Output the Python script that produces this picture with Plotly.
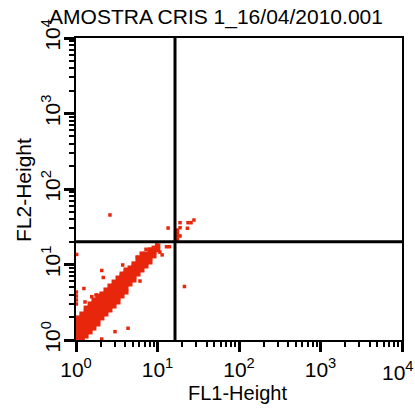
import plotly.graph_objects as go

# ---- data ----
# dense main population (FL1, FL2)
cloud_fl1 = (
    [1.06] * 6 + [1.18] * 7 + [1.33] * 8 + [1.49] * 8 + [1.66] * 8 + [1.86] * 8 +
    [2.08] * 7 + [2.33] * 7 + [2.61] * 7 + [2.93] * 7 + [3.28] * 7 + [3.67] * 7 +
    [4.11] * 7 + [4.60] * 5 + [5.15] * 5 + [5.77] * 5 + [6.45] * 5 + [7.23] * 4 +
    [8.09] * 4 + [9.06] * 3 + [10.1] * 2
)
cloud_fl2 = [
    1.06, 1.20, 1.36, 1.53, 1.73, 1.96,
    1.06, 1.20, 1.36, 1.53, 1.73, 1.96, 2.21,
    1.13, 1.28, 1.44, 1.63, 1.84, 2.08, 2.35, 2.65,
    1.28, 1.44, 1.63, 1.84, 2.08, 2.35, 2.65, 3.00,
    1.44, 1.63, 1.84, 2.08, 2.35, 2.65, 3.00, 3.39,
    1.63, 1.84, 2.08, 2.35, 2.65, 3.00, 3.39, 3.83,
    1.96, 2.21, 2.50, 2.82, 3.19, 3.60, 4.07,
    2.21, 2.50, 2.82, 3.19, 3.60, 4.07, 4.60,
    2.50, 2.82, 3.19, 3.60, 4.07, 4.60, 5.19,
    2.82, 3.19, 3.60, 4.07, 4.60, 5.19, 5.86,
    3.19, 3.60, 4.07, 4.60, 5.19, 5.86, 6.63,
    3.83, 4.32, 4.88, 5.52, 6.23, 7.04, 7.48,
    4.32, 4.88, 5.52, 6.23, 7.04, 7.96, 8.46,
    5.52, 6.23, 7.04, 7.96, 8.99,
    6.23, 7.04, 7.96, 8.99, 10.2,
    7.48, 8.46, 9.56, 10.8, 12.2,
    8.46, 9.56, 10.8, 12.2, 13.8,
    9.56, 10.8, 12.2, 13.8,
    10.8, 12.2, 13.8, 15.6,
    13.0, 14.6, 16.5,
    15.6, 17.6,
]

# scattered events
sparse_fl1 = [2.61, 13.5, 18.9, 18.9, 23.7, 25.8, 28.0, 23.3, 18.9,
              17.6, 17.6, 17.6, 17.6, 21.4, 1.02,
              9.77, 7.23, 8.09, 10.7, 11.4, 14.0, 12.9, 5.65, 3.74, 5.05,
              2.07, 2.16, 1.25, 1.56, 1.29, 1.76,
              1.01, 1.01, 1.01, 1.01, 3.01, 4.35, 2.07, 1.22, 6.10]
sparse_fl2 = [45.3, 30.4, 35.8, 30.7, 35.8, 35.8, 38.8, 30.2, 23.9,
              28.6, 26.1, 23.9, 21.8, 5.11, 13.6,
              18.1, 15.9, 15.9, 14.6, 13.4, 17.2, 17.2, 12.5, 9.85, 9.85,
              8.33, 6.73, 4.81, 3.75, 3.19, 3.95,
              4.32, 3.83, 3.39, 3.00, 1.29, 1.43, 1.03, 1.03, 6.04]

# quadrant gate
gate_fl1 = 16.4
gate_fl2 = 20.0

decades = [1, 10, 100, 1000, 10000]
exponents = ["0", "1", "2", "3", "4"]

RED = "#e8260c"
FONT = "Liberation Sans, Arial, sans-serif"


def power_label(e):
    return "10<sup>" + e + "</sup>"


y_labels = [power_label(e) for e in exponents]
x_labels = [power_label(e) for e in exponents[:-1]] + [""]

fig = go.Figure()
fig.add_trace(go.Scatter(x=cloud_fl1, y=cloud_fl2, mode="markers",
                         marker=dict(symbol="square", size=5, color=RED,
                                     line=dict(width=0)),
                         hoverinfo="skip"))
fig.add_trace(go.Scatter(x=sparse_fl1, y=sparse_fl2, mode="markers",
                         marker=dict(symbol="square", size=3.5, color=RED,
                                     line=dict(width=0)),
                         hoverinfo="skip"))
# gate lines
fig.add_trace(go.Scatter(x=[gate_fl1, gate_fl1], y=[decades[0], decades[-1]],
                         mode="lines", line=dict(color="black", width=3),
                         hoverinfo="skip"))
fig.add_trace(go.Scatter(x=[decades[0], decades[-1]], y=[gate_fl2, gate_fl2],
                         mode="lines", line=dict(color="black", width=3),
                         hoverinfo="skip"))

axis_common = dict(
    type="log", range=[0, 4], showgrid=False, zeroline=False,
    showline=True, linecolor="black", linewidth=2, mirror=True,
    ticks="outside", ticklen=10, tickwidth=2.5, tickcolor="black",
    tickvals=decades,
    tickfont=dict(family=FONT, size=21, color="black"),
    minor=dict(ticks="outside", ticklen=5, tickwidth=1.5, tickcolor="black",
               dtick="D1", showgrid=False),
)

fig.update_layout(
    width=415, height=410,
    margin=dict(l=76, r=13, t=38, b=70),
    paper_bgcolor="white", plot_bgcolor="white",
    showlegend=False,
    xaxis=dict(**axis_common, ticktext=x_labels),
    yaxis=dict(**axis_common, ticktext=y_labels, tickangle=-90,
               ticklabelstandoff=-4),
    title=dict(text="AMOSTRA CRIS 1_16/04/2010.001",
               font=dict(family=FONT, size=21, color="black"),
               x=216 / 415, xref="container", xanchor="center",
               y=1 - 17 / 410, yref="container", yanchor="middle"),
    annotations=[
        dict(text=power_label(exponents[-1]), x=1.0, y=0,
             xref="paper", yref="paper", showarrow=False,
             xshift=-4, yshift=-16,
             font=dict(family=FONT, size=21, color="black"),
             xanchor="center", yanchor="top"),
        dict(text="FL1-Height", x=(237 - 76) / 326, y=(340 - 393) / 302,
             xref="paper", yref="paper", showarrow=False,
             font=dict(family=FONT, size=20, color="black"),
             xanchor="center", yanchor="middle"),
        dict(text="FL2-Height", x=(23 - 76) / 326, y=(340 - 190) / 302,
             xref="paper", yref="paper", showarrow=False, textangle=-90,
             font=dict(family=FONT, size=21, color="black"),
             xanchor="center", yanchor="middle"),
    ],
)

fig.write_html("out.html")
